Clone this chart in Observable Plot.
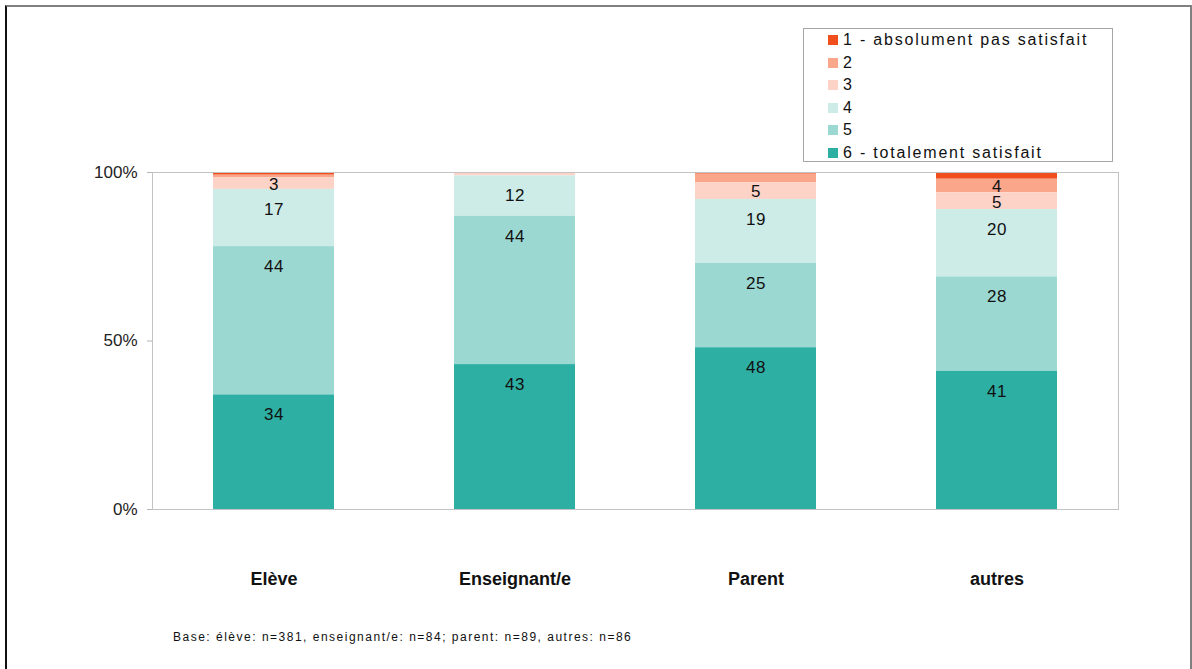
<!DOCTYPE html>
<html><head><meta charset="utf-8">
<script src="https://cdn.jsdelivr.net/npm/d3@7"></script>
<script src="https://cdn.jsdelivr.net/npm/@observablehq/plot@0.6"></script>
<style>
body{margin:0;background:#fff;font-family:"Liberation Sans",Arial,sans-serif;}
#wrap{position:relative;width:1192px;height:669px;overflow:hidden;background:#fff}
#chart{position:absolute;left:0;top:0}
#frame{position:absolute;left:5px;top:5px;width:1187px;height:680px;border-top:2px solid #808080;border-left:2px solid #111;border-right:2px solid #808080;box-sizing:border-box;pointer-events:none}
#legend{position:absolute;left:803px;top:28px;width:310px;height:134px;border:1px solid #a6a6a6;box-sizing:border-box;background:#fff}
.item{height:22.5px;display:flex;align-items:center;padding-left:24px;font-size:16px;letter-spacing:1.8px;color:#111;white-space:nowrap}
.sw{width:10px;height:10px;margin-right:5px;flex:none}
#caption{position:absolute;left:173px;top:630px;font-size:12px;letter-spacing:1.5px;color:#111;white-space:nowrap}
</style></head>
<body>
<div id="wrap">
  <div id="chart"></div>
  <div id="legend"></div>
  <div id="caption"></div>
  <div id="frame"></div>
</div>
<script>
const categories = ["Elève", "Enseignant/e", "Parent", "autres"];
const levels = ["1 - absolument pas satisfait", "2", "3", "4", "5", "6 - totalement satisfait"];
const colors = ["#f04e1c", "#f9a68b", "#fcd3c6", "#cdebe7", "#9bd8d1", "#2eafa4"];
// share (%) per level, in category order
const level1 = [0.8, 0, 0.5, 2];
const level2 = [0.8, 0, 2.5, 4];
const level3 = [3.4, 1, 5, 5];
const level4 = [17, 12, 19, 20];
const level5 = [44, 44, 25, 28];
const level6 = [34, 43, 48, 41];
const yTicks = [0, 50, 100];
const captionText = "Base: élève: n=381, enseignant/e: n=84; parent: n=89, autres: n=86";

const series = [level1, level2, level3, level4, level5, level6];
const data = [];
levels.forEach((lv, i) => categories.forEach((c, j) => data.push({cat: c, level: lv, value: series[i][j]})));
const stackOrder = levels.slice().reverse();
const fmt = d => String(Math.round(d.value));

const plot = Plot.plot({
  width: 1192,
  height: 669,
  marginLeft: 152,
  marginRight: 74,
  marginTop: 172,
  marginBottom: 160,
  style: {fontFamily: '"Liberation Sans", Arial, sans-serif', background: "transparent", color: "#111"},
  x: {domain: categories, paddingInner: 0.5, paddingOuter: 0.25, label: null},
  y: {domain: [0, 100], label: null},
  color: {domain: levels, range: colors},
  marks: [
    Plot.barY(data, {x: "cat", y: "value", fill: "level", order: stackOrder}),
    Plot.frame({stroke: "#c3c3c3"}),
    Plot.axisY({ticks: yTicks, tickSize: 5, text: null, stroke: "#b5b5b5"}),
    Plot.axisY({ticks: yTicks, tickSize: 0, tickPadding: 15, tickFormat: d => d + "%", fontSize: 17, fill: "#222", style: {letterSpacing: "1px"}}),
    Plot.axisX({tickSize: 0, tickPadding: 63, fontSize: 18, fontWeight: "bold", fill: "#111", label: null, style: {letterSpacing: "1.2px"}}),
    // large segments: label near the top of the segment
    Plot.text(data, Plot.stackY2({x: "cat", y: "value", z: "level", order: stackOrder,
      text: d => d.value >= 8 ? fmt(d) : null, dy: 20, fontSize: 17, fill: "#111"})),
    // small segments: label centred in the segment
    Plot.text(data, Plot.stackY({x: "cat", y: "value", z: "level", order: stackOrder,
      text: d => d.value >= 3 && d.value < 8 ? fmt(d) : null, dy: 1, fontSize: 17, fill: "#111"}))
  ]
});
document.getElementById("chart").appendChild(plot);
plot.querySelectorAll("g[aria-label='text'] text").forEach(t => t.style.letterSpacing = "0.5px");

const legend = document.getElementById("legend");
levels.forEach((lv, i) => {
  const it = document.createElement("div");
  it.className = "item";
  const sw = document.createElement("span");
  sw.className = "sw";
  sw.style.background = colors[i];
  it.appendChild(sw);
  it.appendChild(document.createTextNode(lv));
  legend.appendChild(it);
});
document.getElementById("caption").textContent = captionText;
</script>
</body></html>
